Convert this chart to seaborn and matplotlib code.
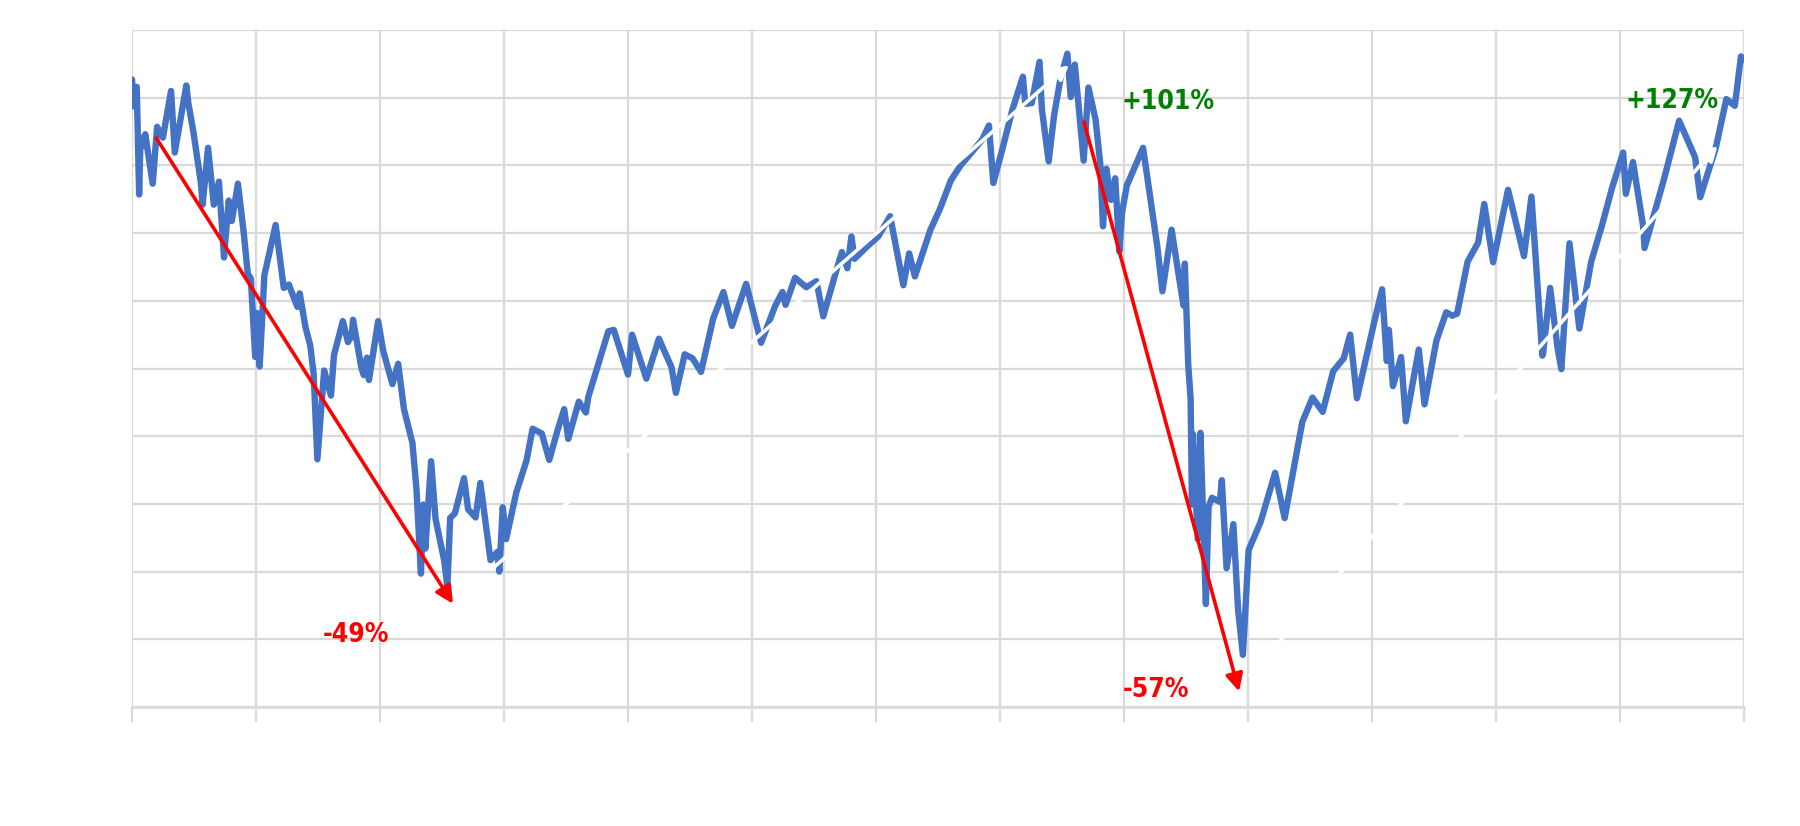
import pandas as pd
import numpy as np
import matplotlib
matplotlib.use("Agg")
import matplotlib.pyplot as plt
import matplotlib.dates as mdates
import seaborn as sns

# S&P 500 closes (Mar 2000 - Mar 2013)
dates = ["2000-03-24", "2000-03-30", "2000-04-07", "2000-04-14", "2000-04-18", "2000-04-24",
         "2000-05-02", "2000-05-24", "2000-06-06", "2000-06-23", "2000-07-17", "2000-07-28",
         "2000-08-31", "2000-09-06", "2000-09-21", "2000-10-13", "2000-10-18", "2000-11-03",
         "2000-11-20", "2000-12-05", "2000-12-20", "2000-12-29",
         "2001-01-03", "2001-01-12", "2001-01-30", "2001-02-16", "2001-02-28", "2001-03-09",
         "2001-03-22", "2001-03-27", "2001-04-04", "2001-04-18", "2001-05-21", "2001-06-14",
         "2001-06-29", "2001-07-24", "2001-07-31", "2001-08-17", "2001-08-31", "2001-09-10",
         "2001-09-21", "2001-10-11", "2001-10-31", "2001-11-09", "2001-12-05", "2001-12-20",
         "2001-12-31",
         "2002-01-04", "2002-01-29", "2002-02-05", "2002-02-14", "2002-02-20", "2002-03-19",
         "2002-04-03", "2002-04-30", "2002-05-17", "2002-06-03", "2002-06-28", "2002-07-10",
         "2002-07-23", "2002-07-30", "2002-08-05", "2002-08-22", "2002-09-04", "2002-09-30",
         "2002-10-09", "2002-10-17", "2002-10-31", "2002-11-27", "2002-12-09", "2002-12-31",
         "2003-01-14", "2003-02-13", "2003-03-05", "2003-03-11", "2003-03-21", "2003-03-31",
         "2003-04-30", "2003-05-30", "2003-06-17", "2003-07-14", "2003-08-05", "2003-08-29",
         "2003-09-18", "2003-09-30", "2003-10-31", "2003-11-21", "2003-11-28", "2003-12-31",
         "2004-01-26", "2004-02-11", "2004-03-24", "2004-04-05", "2004-05-17", "2004-06-23",
         "2004-07-30", "2004-08-12", "2004-09-07", "2004-09-30", "2004-10-25", "2004-11-30",
         "2004-12-30",
         "2005-01-24", "2005-03-07", "2005-04-20", "2005-05-31", "2005-06-22", "2005-07-01",
         "2005-07-29", "2005-08-31", "2005-09-30", "2005-10-20", "2005-11-30", "2005-12-14",
         "2005-12-30",
         "2006-01-11", "2006-01-20", "2006-02-28", "2006-03-31", "2006-05-05", "2006-06-13",
         "2006-06-30", "2006-07-17", "2006-08-31", "2006-09-29", "2006-10-31", "2006-11-30",
         "2006-12-29",
         "2007-01-31", "2007-02-20", "2007-03-05", "2007-03-30", "2007-04-30", "2007-05-31",
         "2007-06-07", "2007-06-26", "2007-07-19", "2007-07-26", "2007-08-15", "2007-08-31",
         "2007-09-19", "2007-10-09", "2007-10-19", "2007-10-31", "2007-11-26", "2007-12-10",
         "2007-12-31",
         "2008-01-14", "2008-01-22", "2008-02-01", "2008-02-14", "2008-02-27", "2008-03-10",
         "2008-03-18", "2008-04-01", "2008-05-19", "2008-06-30", "2008-07-15", "2008-08-11",
         "2008-09-15", "2008-09-19", "2008-09-29", "2008-10-06", "2008-10-10", "2008-10-13",
         "2008-10-27", "2008-11-04", "2008-11-20", "2008-11-28", "2008-12-08", "2008-12-31",
         "2009-01-06", "2009-01-20", "2009-02-09", "2009-02-23", "2009-03-09", "2009-03-26",
         "2009-04-30", "2009-06-12", "2009-07-10", "2009-08-31", "2009-09-30", "2009-10-30",
         "2009-11-30", "2009-12-31",
         "2010-01-19", "2010-02-08", "2010-03-31", "2010-04-23", "2010-05-07", "2010-05-13",
         "2010-05-25", "2010-06-18", "2010-07-02", "2010-08-09", "2010-08-26", "2010-09-30",
         "2010-10-29", "2010-11-16", "2010-11-30", "2010-12-31",
         "2011-01-31", "2011-02-18", "2011-03-16", "2011-04-29", "2011-06-15", "2011-07-07",
         "2011-08-08", "2011-08-10", "2011-08-31", "2011-09-22", "2011-10-03", "2011-10-27",
         "2011-11-25", "2011-12-30",
         "2012-01-31", "2012-02-29", "2012-04-02", "2012-04-10", "2012-05-01", "2012-05-31",
         "2012-06-04", "2012-07-31", "2012-09-14", "2012-10-31", "2012-11-15", "2012-12-31",
         "2013-01-31", "2013-02-25", "2013-03-15", "2013-03-22"]
closes = [1527, 1487, 1516, 1357, 1441, 1429,
          1446, 1373, 1457, 1441, 1510, 1419,
          1518, 1492, 1449, 1374, 1342, 1426,
          1342, 1376, 1264, 1320,
          1348, 1318, 1373, 1301, 1240, 1233,
          1117, 1182, 1103, 1238, 1312, 1219,
          1224, 1191, 1211, 1161, 1134, 1092,
          966, 1097, 1060, 1120, 1170, 1139,
          1148,
          1172, 1100, 1090, 1116, 1083, 1170,
          1126, 1077, 1107, 1040, 990, 921,
          797, 899, 834, 963, 878, 815,
          777, 879, 886, 938, 892, 880,
          931, 817, 829, 800, 895, 848,
          917, 964, 1011, 1004, 965, 1008,
          1040, 996, 1051, 1035, 1058, 1112,
          1155, 1157, 1091, 1150, 1085, 1144,
          1102, 1064, 1121, 1115, 1095, 1174,
          1213,
          1163, 1225, 1138, 1192, 1213, 1194,
          1234, 1220, 1229, 1177, 1249, 1272,
          1248,
          1295, 1262, 1281, 1295, 1325, 1223,
          1270, 1236, 1304, 1336, 1378, 1401,
          1418,
          1438, 1459, 1374, 1421, 1482, 1531,
          1491, 1492, 1553, 1483, 1406, 1474,
          1529, 1565, 1501, 1549, 1407, 1515,
          1468,
          1402, 1310, 1395, 1349, 1381, 1273,
          1330, 1370, 1426, 1280, 1214, 1305,
          1193, 1255, 1106, 1056, 899, 1003,
          848, 1005, 752, 896, 909, 903,
          935, 805, 870, 743, 677, 832,
          873, 946, 879, 1021, 1057, 1036,
          1096, 1115,
          1150, 1056, 1169, 1217, 1111, 1157,
          1074, 1117, 1022, 1128, 1047, 1141,
          1183, 1178, 1181, 1258,
          1286, 1343, 1257, 1364, 1266, 1354,
          1119, 1121, 1219, 1130, 1099, 1285,
          1159, 1258,
          1312, 1366, 1419, 1358, 1405, 1310,
          1278, 1379, 1466, 1412, 1353, 1426,
          1498, 1488, 1561, 1556]

# annotation arrows: (start date, start value, end date, end value)
down_moves = [("2000-05-30", 1444, "2002-10-30", 749),
              ("2007-11-25", 1468, "2009-02-28", 619)]
down_labels = ["-49%", "-57%"]
down_label_pos = [("2002-01-12", 707), ("2008-06-25", 625)]
up_moves = [("2003-02-20", 805, "2007-10-20", 1551),
            ("2009-03-24", 644, "2013-01-10", 1432)]
up_labels = ["+101%", "+127%"]
up_label_pos = [("2008-08-01", 1493), ("2012-08-25", 1495)]

year_ticks = [f"{y}-03-24" for y in range(2000, 2014)]
year_labels = [str(y) for y in range(2000, 2014)]

df = pd.DataFrame({"date": pd.to_datetime(dates), "close": closes})

sns.set_theme(style="whitegrid")
plt.rcParams['font.family'] = ['DejaVu Sans']

fig = plt.figure(figsize=(18, 8.26), dpi=100)
ax = fig.add_axes([132 / 1800, 1 - 707 / 826, (1744 - 132) / 1800, (707 - 30) / 826])

sns.lineplot(data=df, x="date", y="close", color="#4472C4", linewidth=4.6, ax=ax)
ax.lines[0].set_solid_joinstyle("round")

# white trend arrows drawn over the line
for x0, y0, x1, y1 in up_moves:
    ax.annotate("", xy=(mdates.date2num(pd.Timestamp(x1)), y1),
                xytext=(mdates.date2num(pd.Timestamp(x0)), y0),
                arrowprops=dict(arrowstyle="-|>", color="white", lw=2.6, mutation_scale=22))
# red drawdown arrows
for x0, y0, x1, y1 in down_moves:
    ax.annotate("", xy=(mdates.date2num(pd.Timestamp(x1)), y1),
                xytext=(mdates.date2num(pd.Timestamp(x0)), y0),
                arrowprops=dict(arrowstyle="-|>", color="#FF0000", lw=2.6, mutation_scale=26))

for txt, (d, v) in zip(down_labels, down_label_pos):
    ax.text(mdates.date2num(pd.Timestamp(d)), v, txt, color="#FF0000", fontsize=19,
            fontweight="bold", fontstretch="condensed", ha="center", va="center")
for txt, (d, v) in zip(up_labels, up_label_pos):
    ax.text(mdates.date2num(pd.Timestamp(d)), v, txt, color="#008000", fontsize=19,
            fontweight="bold", fontstretch="condensed", ha="center", va="center")

ax.set_xlim(mdates.date2num(pd.Timestamp(year_ticks[0])), mdates.date2num(pd.Timestamp(year_ticks[-1])))
ax.set_ylim(600, 1600)
ax.set_xticks([mdates.date2num(pd.Timestamp(t)) for t in year_ticks])
ax.set_xticklabels(year_labels, color="white", fontsize=14)
ax.set_yticks(np.arange(600, 1601, 100))
ax.set_yticklabels([str(v) for v in range(600, 1601, 100)], color="white", fontsize=14)
ax.set_xlabel("")
ax.set_ylabel("")
ax.grid(True, color="#D9D9D9", linewidth=1.6)
ax.tick_params(axis="x", length=11, width=1.6, color="#D9D9D9", bottom=True)
ax.tick_params(axis="y", length=0)
for side in ["left", "right", "top"]:
    ax.spines[side].set_visible(False)
ax.spines["bottom"].set_color("#D9D9D9")
ax.spines["bottom"].set_linewidth(1.8)
ax.set_facecolor("white")

fig.savefig("out.png", dpi=100, facecolor="white")
